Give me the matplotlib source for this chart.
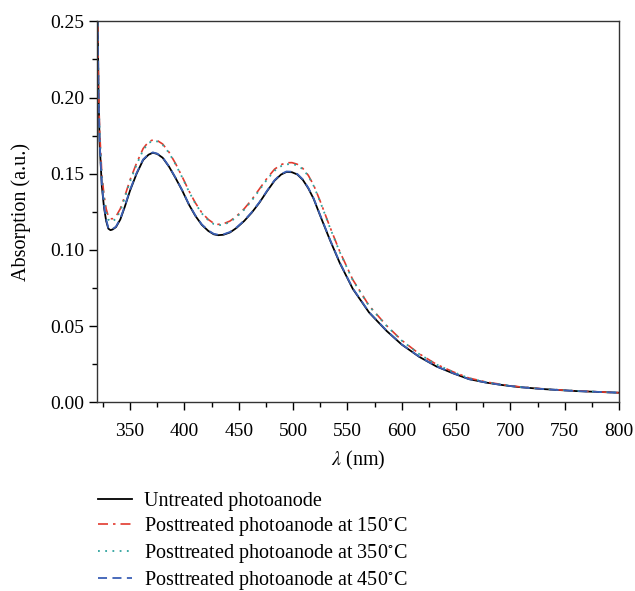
import matplotlib
matplotlib.use("Agg")
import matplotlib.pyplot as plt
from matplotlib.ticker import MultipleLocator, FormatStrFormatter

plt.rcParams['font.family'] = ['Liberation Serif', 'DejaVu Serif']
plt.rcParams['mathtext.fontset'] = 'stix'

wavelength = [320, 321, 322, 324, 326, 328, 330, 332, 334, 337, 341, 345, 350, 356,
              362, 367, 371, 375, 380, 386, 392, 398, 404, 410, 416, 422, 427, 431,
              436, 442, 448, 455, 462, 469, 476, 483, 489, 494, 499, 504, 509, 514,
              519, 525, 534, 543, 555, 570, 586, 600, 616, 632, 647, 662, 678, 693,
              708, 730, 760, 800]

untreated = [0.262, 0.200, 0.170, 0.142, 0.128, 0.119, 0.114, 0.113, 0.1135, 0.115,
             0.120, 0.128, 0.139, 0.150, 0.159, 0.1625, 0.1638, 0.1630, 0.1605,
             0.1545, 0.147, 0.139, 0.130, 0.1225, 0.1165, 0.1125, 0.1103, 0.1097,
             0.1100, 0.1115, 0.1145, 0.119, 0.1245, 0.131, 0.1385, 0.1455, 0.1495,
             0.1512, 0.1510, 0.1495, 0.1460, 0.1405, 0.1335, 0.1225, 0.1065, 0.0915,
             0.0745, 0.0590, 0.0470, 0.0380, 0.0300, 0.0236, 0.0192, 0.0153, 0.0130,
             0.0114, 0.0101, 0.0088, 0.0075, 0.0064]

post150 = [0.262, 0.205, 0.178, 0.150, 0.136, 0.127, 0.122, 0.1205, 0.1205, 0.122,
           0.127, 0.135, 0.146, 0.157, 0.1665, 0.1710, 0.1722, 0.1718, 0.1695,
           0.1640, 0.1565, 0.1480, 0.1390, 0.1310, 0.1245, 0.1200, 0.1175, 0.1168,
           0.1172, 0.1190, 0.1222, 0.1270, 0.1330, 0.1400, 0.1470, 0.1530, 0.1560,
           0.1572, 0.1573, 0.1562, 0.1535, 0.1490, 0.1425, 0.1320, 0.1150, 0.0990,
           0.0805, 0.0635, 0.0505, 0.0408, 0.0320, 0.0250, 0.0202, 0.0160, 0.0134,
           0.0117, 0.0103, 0.0089, 0.0076, 0.0064]

post350 = [0.262, 0.203, 0.176, 0.148, 0.134, 0.125, 0.120, 0.1185, 0.1188, 0.1205,
           0.1255, 0.134, 0.145, 0.156, 0.1655, 0.1702, 0.1715, 0.1712, 0.1690,
           0.1636, 0.1560, 0.1476, 0.1386, 0.1306, 0.1240, 0.1195, 0.1170, 0.1162,
           0.1166, 0.1184, 0.1216, 0.1264, 0.1324, 0.1393, 0.1462, 0.1520, 0.1550,
           0.1562, 0.1564, 0.1555, 0.1530, 0.1486, 0.1420, 0.1316, 0.1146, 0.0986,
           0.0802, 0.0632, 0.0503, 0.0406, 0.0318, 0.0249, 0.0201, 0.0159, 0.0133,
           0.0116, 0.0102, 0.0089, 0.0076, 0.0064]

post450 = [0.262, 0.201, 0.171, 0.143, 0.129, 0.120, 0.1145, 0.1133, 0.1138, 0.1153,
           0.1205, 0.1285, 0.1395, 0.1505, 0.1594, 0.1628, 0.1640, 0.1632, 0.1607,
           0.1547, 0.1472, 0.1392, 0.1302, 0.1228, 0.1168, 0.1128, 0.1106, 0.1100,
           0.1103, 0.1118, 0.1148, 0.1193, 0.1248, 0.1313, 0.1388, 0.1458, 0.1498,
           0.1515, 0.1513, 0.1498, 0.1463, 0.1408, 0.1338, 0.1228, 0.1068, 0.0918,
           0.0748, 0.0592, 0.0472, 0.0381, 0.0301, 0.0237, 0.0193, 0.0153, 0.0130,
           0.0114, 0.0101, 0.0088, 0.0075, 0.0064]

labels = ["Untreated photoanode",
          "Posttreated photoanode at 150$^{\\circ}$C",
          "Posttreated photoanode at 350$^{\\circ}$C",
          "Posttreated photoanode at 450$^{\\circ}$C"]

fig = plt.figure(figsize=(6.35, 5.91), dpi=100)
ax = fig.add_axes([0.1535, 0.319, 0.8213, 0.645])

l1, = ax.plot(wavelength, untreated, color='black', lw=1.3, ls='-', label=labels[0])
l2, = ax.plot(wavelength, post150, color='#e23a2e', lw=1.2, ls=(0, (6, 3, 1.5, 3)), label=labels[1])
l3, = ax.plot(wavelength, post350, color='#2fa39e', lw=1.3, ls=(0, (1, 3)), label=labels[2])
l4, = ax.plot(wavelength, post450, color='#3a5fb5', lw=1.3, ls=(0, (5, 3)), label=labels[3])

ax.set_xlim(320, 800)
ax.set_ylim(0, 0.25)
ax.xaxis.set_major_locator(MultipleLocator(50))
ax.xaxis.set_minor_locator(MultipleLocator(25))
ax.yaxis.set_major_locator(MultipleLocator(0.05))
ax.yaxis.set_minor_locator(MultipleLocator(0.025))
ax.yaxis.set_major_formatter(FormatStrFormatter('%.2f'))
ax.tick_params(which='both', direction='out', top=False, right=False, labelsize=14)
ax.tick_params(which='major', length=6, width=1)
ax.tick_params(which='minor', length=3.5, width=1)
ax.tick_params(axis='x', pad=9)
for s in ax.spines.values():
    s.set_linewidth(1.0)
    s.set_color('#333333')

ax.set_xlabel("$\\lambda$ (nm)", fontsize=14.5, labelpad=6)
ax.set_ylabel("Absorption (a.u.)", fontsize=14.5, labelpad=14)

fig.legend(handles=[l1, l2, l3, l4], loc='upper left', bbox_to_anchor=(0.142, 0.182),
           frameon=False, fontsize=14.5, handlelength=1.7, handletextpad=0.55,
           labelspacing=0.2, borderaxespad=0)

fig.savefig("out.png", dpi=100)
